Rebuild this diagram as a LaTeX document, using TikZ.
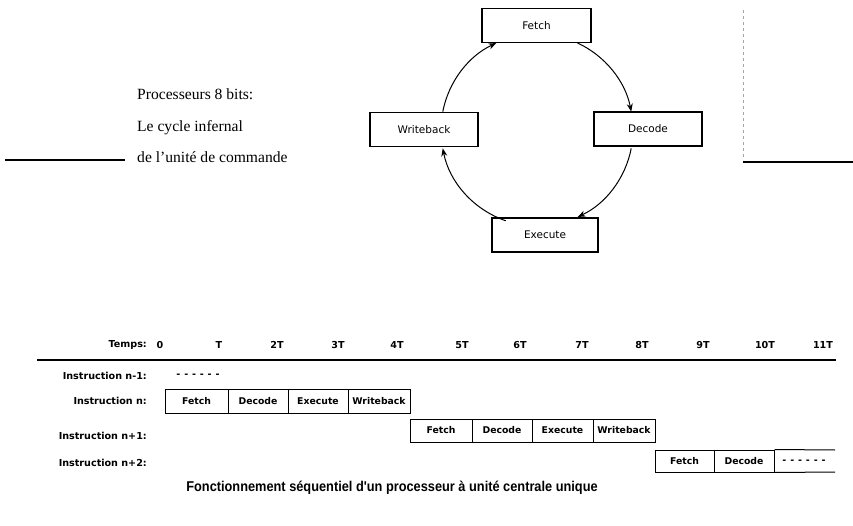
\documentclass[tikz,border=0pt]{standalone}
\usepackage{fontspec}
\setmainfont{Liberation Serif}
\newfontfamily\stagefont{DejaVu Sans}
\newfontfamily\chartfont{DejaVu Sans}
\newfontfamily\capfont[FakeStretch=0.9]{Liberation Sans}
\usetikzlibrary{arrows.meta,calc}

\begin{document}
\begin{tikzpicture}[x=1pt,y=-1pt,
  stage/.style={draw,line width=1.1pt,minimum width=#1,minimum height=34pt,
    inner sep=0pt,font=\stagefont\fontsize{10.5}{12}\selectfont},
  cyc/.style={line width=1pt,-{Stealth[length=8pt,width=6pt]}},
  cell/.style={draw,line width=1pt,minimum width=#1,inner sep=0pt,
    font=\chartfont\bfseries\fontsize{9.3}{11}\selectfont},
  rowlabel/.style={anchor=east,inner sep=0pt,
    font=\chartfont\bfseries\fontsize{9.6}{11}\selectfont},
  tick/.style={inner sep=0pt,font=\chartfont\bfseries\fontsize{9.6}{11}\selectfont},
  titletext/.style={anchor=west,inner sep=0pt,text height=1.5ex,text depth=.3ex,
    font=\fontsize{15.6}{18}\selectfont},
  rule/.style={line width=1.4pt},
  dots/.style={inner sep=0pt,font=\chartfont\bfseries\fontsize{9.6}{11}\selectfont\addfontfeatures{LetterSpace=40}}
]
\useasboundingbox (0,0) rectangle (853,526);
\fill[white] (0,0) rectangle (853,526);

% ---- title block on the left ----
\node[titletext] (t1) at (137,97)  {Processeurs 8 bits:};
\node[titletext] (t2) at (137,129) {Le cycle infernal};
\node[titletext] (t3) at (137,160) {de l'unité de commande};
\coordinate (ruleL) at (5,160);
\draw[rule] (ruleL) -- ([xshift=-12pt]t3.west);

% ---- marks on the right ----
\coordinate (vr1) at (743,10);
\coordinate (vr2) at (743,160);
\coordinate (rr1) at (743,162);
\coordinate (rr2) at (853,162);
\draw[black!35,line width=0.8pt,dashed] (vr1) -- (vr2);
\draw[rule] (rr1) -- (rr2);

% ---- instruction cycle ----
\node[stage=109] (fetch)  at (536.5,25.5) {Fetch};
\node[stage=108] (decode) at (648,129)    {Decode};
\node[stage=108] (wb)     at (424,129.5)  {Writeback};
\node[stage=106] (exec)   at (545,235)    {Execute};

\coordinate (cc) at (537,130);
\def\rr{96}
\draw[cyc] ($(cc)+(-169:\rr)$) arc[start angle=-169,end angle=-115,radius=\rr];
\draw[cyc] ($(cc)+(-65:\rr)$)  arc[start angle=-65,end angle=-11,radius=\rr];
\draw[cyc] ($(cc)+(11:\rr)$)   arc[start angle=11,end angle=65,radius=\rr];
\draw[cyc] ($(cc)+(109:\rr)$)  arc[start angle=109,end angle=169,radius=\rr];

% ---- time axis ----
\node[tick,anchor=east] (temps) at (147,345) {Temps:};
\foreach \lab/\xx [count=\i] in {0/160,T/219,2T/277,3T/338,4T/397,5T/462,6T/520,7T/582,8T/642,9T/703,10T/765,11T/823}
  \node[tick] (tk\i) at (\xx,345) {\lab};
\coordinate (axL) at (37,360);
\coordinate (axR) at (836,360);
\draw[line width=1.8pt] (axL) -- (axR);

% ---- row labels ----
\node[rowlabel] (r0) at (147,376) {Instruction n-1:};
\node[rowlabel] (r1) at (147,401) {Instruction n:};
\node[rowlabel] (r2) at (147,436) {Instruction n+1:};
\node[rowlabel] (r3) at (147,463) {Instruction n+2:};

\node[dots] (d0) at (198,376) {------};

% instruction n
\begin{scope}[every node/.append style={minimum height=24pt}]
\node[cell=63] (a1) at (196.5,401) {Fetch};
\node[cell=60] (a2) at (258,401)   {Decode};
\node[cell=60] (a3) at (318,401)   {Execute};
\node[cell=62] (a4) at (379,401)   {Writeback};
\end{scope}

% instruction n+1
\begin{scope}[every node/.append style={minimum height=23pt}]
\node[cell=62] (b1) at (441,430.5)   {Fetch};
\node[cell=60] (b2) at (502,430.5)   {Decode};
\node[cell=61] (b3) at (562.5,430.5) {Execute};
\node[cell=62] (b4) at (624,430.5)   {Writeback};
\end{scope}

% instruction n+2 (open on the right)
\begin{scope}[every node/.append style={minimum height=22pt}]
\node[cell=59] (c1) at (684.5,461) {Fetch};
\node[cell=60] (c2) at (744,461)   {Decode};
\end{scope}
\coordinate (cTop) at (835,450);
\coordinate (cBot) at (835,472);
\draw[line width=1pt] (c2.north east) -- (cTop);
\draw[line width=1pt] (c2.south east) -- (cBot);
\node[dots] (c3) at (804,462) {------};

% ---- caption ----
\node[inner sep=0pt,font=\capfont\bfseries\fontsize{14.2}{17}\selectfont] (cap) at (392,488)
  {Fonctionnement séquentiel d'un processeur à unité centrale unique};
\end{tikzpicture}
\end{document}
